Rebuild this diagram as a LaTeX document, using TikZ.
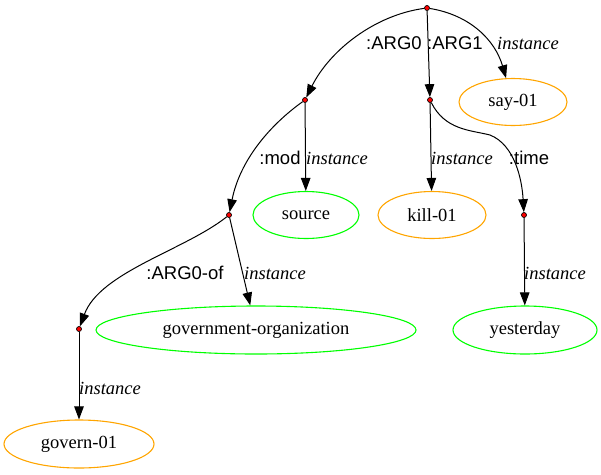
\documentclass[tikz,border=0pt]{standalone}
\usepackage{fontspec}
\setmainfont{Liberation Serif}
\newfontfamily\lsans{Liberation Sans}
\usetikzlibrary{shapes.geometric,arrows.meta}
\definecolor{gvorange}{HTML}{FFA500}
\definecolor{gvgreen}{HTML}{00FF00}
\tikzset{
  dot/.style={circle,draw=black,fill=red,inner sep=0pt,minimum size=5pt,line width=0.7pt},
  ell/.style={ellipse,draw,line width=1.1pt,inner sep=0pt,font=\fontsize{18.5}{20}\selectfont},
  orangeell/.style={ell,draw=gvorange},
  greenell/.style={ell,draw=gvgreen},
  edge/.style={draw=black,line width=1pt,-{Triangle[length=13pt,width=9.5pt]}},
  rel/.style={font=\lsans\fontsize{18.5}{20}\selectfont,inner sep=0pt},
  inst/.style={font=\itshape\fontsize{18.5}{20}\selectfont,inner sep=0pt}
}
\begin{document}
\begin{tikzpicture}[x=1pt,y=-1pt]
\useasboundingbox (0,0) rectangle (601,474);
% concept nodes
\node[dot] (r) at (427,8) {};
\node[dot] (a) at (305,100) {};
\node[dot] (b) at (430,100) {};
\node[dot] (c) at (229,215) {};
\node[dot] (d) at (524,215) {};
\node[dot] (e) at (79,329) {};
% instance nodes
\node[orangeell,minimum width=108pt,minimum height=47pt] (say) at (513,102) {say-01};
\node[greenell,minimum width=106pt,minimum height=47pt] (source) at (306,215) {source};
\node[orangeell,minimum width=108pt,minimum height=47pt] (kill) at (432,215) {kill-01};
\node[greenell,minimum width=320pt,minimum height=48pt] (gov) at (256,330) {government-organization};
\node[greenell,minimum width=144pt,minimum height=48pt] (yest) at (525,330) {yesterday};
\node[orangeell,minimum width=150pt,minimum height=48pt] (governo) at (79,444) {govern-01};
% edges
\draw[edge] (r) .. controls (375,15) and (330,50) .. (a);
\draw[edge] (r) -- (b);
\draw[edge] (r) .. controls (470,15) and (495,40) .. (say);
\draw[edge] (a) -- (source);
\draw[edge] (a) .. controls (270,125) and (240,160) .. (c);
\draw[edge] (b) -- (kill);
\draw[edge] (b) .. controls (445,130) and (470,130) .. (490,135) .. controls (515,145) and (522,180) .. (d);
\draw[edge] (c) -- (gov);
\draw[edge] (c) .. controls (185,250) and (100,272) .. (e);
\draw[edge] (d) -- (yest);
\draw[edge] (e) -- (governo);
% labels
\node[rel] (l1) at (394,43) {:ARG0};
\node[rel] (l2) at (455,43) {:ARG1};
\node[inst] (l3) at (528,43) {instance};
\node[rel] (l4) at (280,158) {:mod};
\node[inst] (l5) at (337,158) {instance};
\node[inst] (l6) at (462,158) {instance};
\node[rel] (l7) at (529,158) {:time};
\node[rel] (l8) at (185,273) {:ARG0-of};
\node[inst] (l9) at (275,273) {instance};
\node[inst] (l10) at (555,273) {instance};
\node[inst] (l11) at (110,388) {instance};
\end{tikzpicture}
\end{document}
